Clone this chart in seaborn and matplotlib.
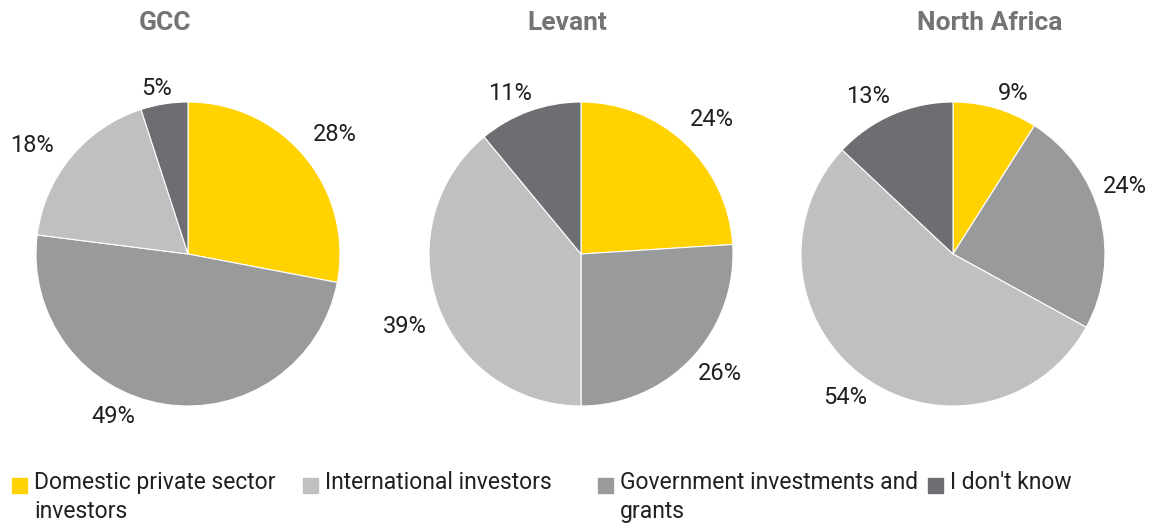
import matplotlib
matplotlib.use("Agg")
import matplotlib.pyplot as plt
import matplotlib.patches as mpatches
import seaborn as sns

sns.set_theme(style="white")
plt.rcParams['font.family'] = ['Roboto', 'DejaVu Sans']

# ---- data ----
regions = ["GCC", "Levant", "North Africa"]
categories = ["Domestic private sector\ninvestors", "International investors",
              "Government investments and\ngrants", "I don't know"]
# slice order clockwise from top: Domestic, Government, International, Don't know
slice_order = [0, 2, 1, 3]
gcc = [28, 18, 49, 5]
levant = [24, 39, 26, 11]
north_africa = [9, 54, 24, 13]
values = [gcc, levant, north_africa]

colors = ["#FFD200", "#BFC0C2", "#999A9C", "#6D6E71"]

# label positions (in pie-radius units) for each category per region
label_pos = {
    "GCC": [(0.967, 0.783), (-1.026, 0.717), (-0.493, -1.072), (-0.204, 1.086)],
    "Levant": [(0.862, 0.882), (-1.158, -0.474), (0.914, -0.783), (-0.467, 1.059)],
    "North Africa": [(0.395, 1.053), (-0.711, -0.947), (1.132, 0.447), (-0.559, 1.033)],
}

W, H = 1163, 527
fig = plt.figure(figsize=(W / 100, H / 100), dpi=100)

centers = [(188, 254), (581, 254), (953, 254)]
title_x = [165, 567, 990]
R = 152
pad = 1.35
for reg, vals, (cx, cy), tx in zip(regions, values, centers, title_x):
    half = R * pad
    ax = fig.add_axes([(cx - half) / W, (H - cy - half) / H, 2 * half / W, 2 * half / H])
    v = [vals[i] for i in slice_order]
    c = [colors[i] for i in slice_order]
    ax.pie(v, colors=c, startangle=90, counterclock=False, radius=1,
           wedgeprops=dict(edgecolor="white", linewidth=0.8))
    ax.set_xlim(-pad, pad)
    ax.set_ylim(-pad, pad)
    ax.set_aspect("equal")
    ax.axis("off")
    for i, (lx, ly) in enumerate(label_pos[reg]):
        ax.text(lx, ly, f"{vals[i]}%", ha="center", va="center", fontsize=17,
                color="#231F20", clip_on=False)
    fig.text(tx / W, 1 - 23 / H, reg, ha="center", va="center", fontsize=19,
             fontweight="bold", color="#747474")

# legend
leg_x = [12, 303, 598, 928]
for cat, col, lx in zip(categories, colors, leg_x):
    fig.patches.append(mpatches.Rectangle((lx / W, 1 - 493 / H), 15 / W, 15 / H,
                                          transform=fig.transFigure, color=col))
    fig.text((lx + 22) / W, 1 - 471 / H, cat, ha="left", va="top", fontsize=16.5,
             color="#231F20", linespacing=1.35)

fig.savefig("out.png", dpi=100)
